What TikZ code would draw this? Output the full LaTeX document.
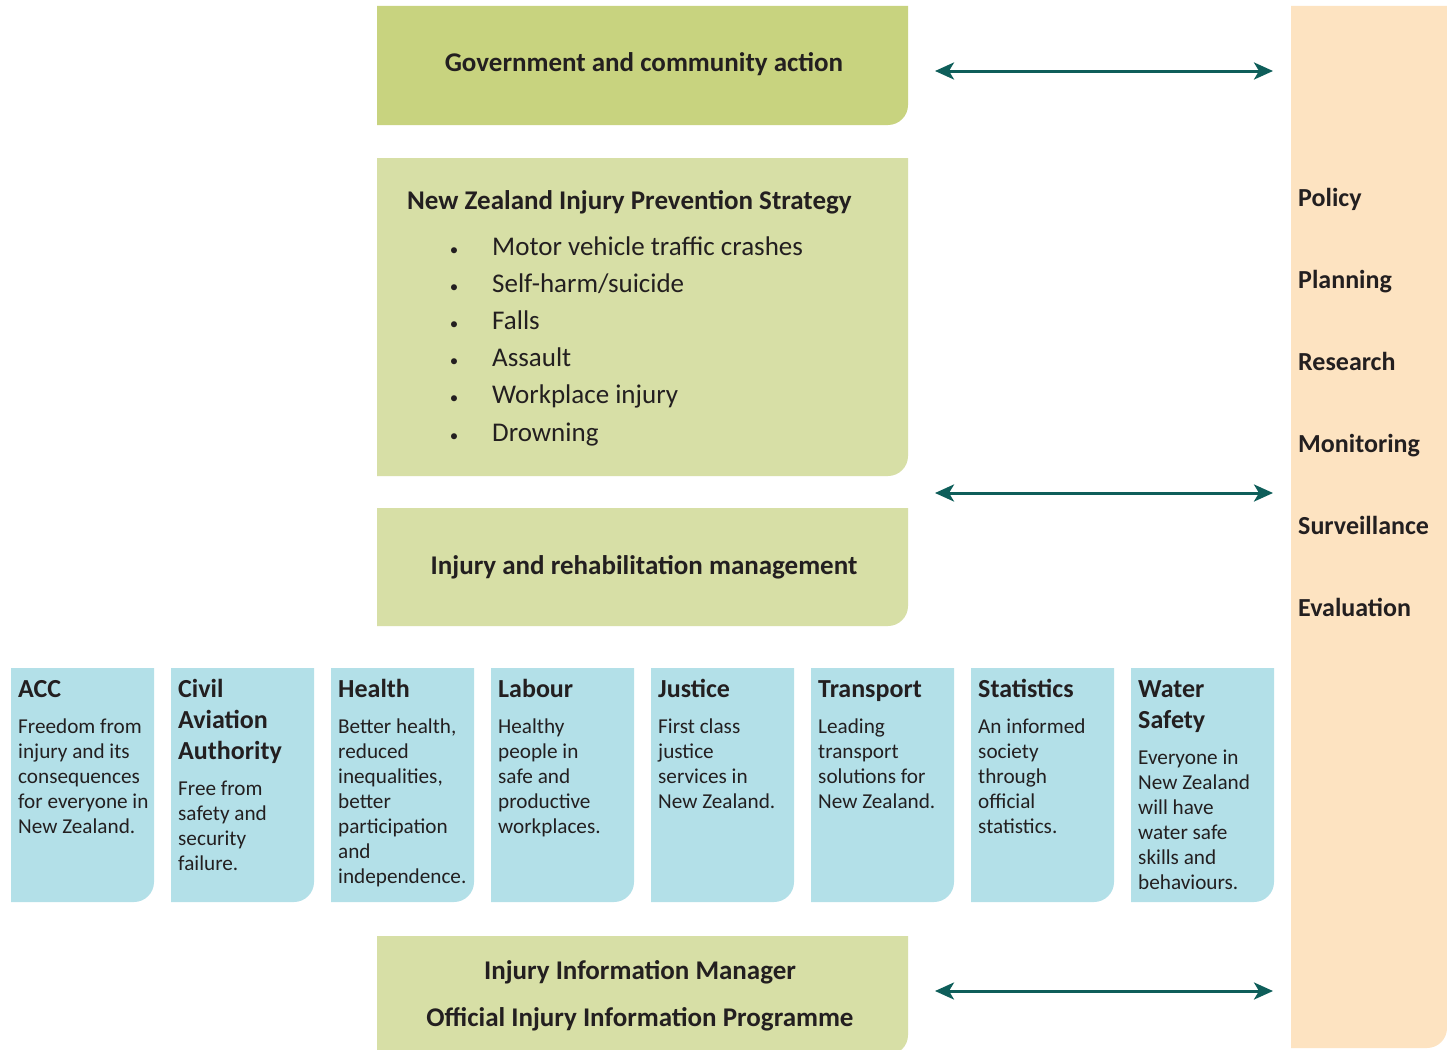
\documentclass[tikz,border=0pt]{standalone}
\usepackage{fontspec}
\setmainfont{Carlito}
\usetikzlibrary{arrows.meta}
\definecolor{gdark}{RGB}{200,211,127}
\definecolor{glight}{RGB}{215,223,166}
\definecolor{bluebx}{RGB}{179,224,232}
\definecolor{peach}{RGB}{253,227,193}
\definecolor{teal}{RGB}{14,94,90}
\definecolor{txt}{RGB}{35,31,32}
\newcommand{\rbox}[5]{\fill[#5] (#1,#2) -- (#3,#2) -- (#3,#4-20) .. controls (#3,#4-9) and (#3-9,#4) .. (#3-20,#4) -- (#1,#4) -- cycle;}
\newcommand{\bluetext}[2]{\vtop{\hsize=200pt\parindent=0pt\raggedright\fontsize{26}{31}\selectfont\bfseries #1\par\vskip 11pt\fontsize{21.2}{25}\selectfont\mdseries #2\par}}
\newcommand{\bdot}{\makebox[0pt]{\fontsize{17}{17}\selectfont\textbullet}\hspace*{38pt}}
\begin{document}
\begin{tikzpicture}[x=1pt,y=-1pt,
  lbl/.style={inner sep=0pt,text=txt},
  head/.style={lbl,font=\fontsize{27}{32}\selectfont\bfseries},
  side/.style={lbl,anchor=base west,font=\fontsize{26}{31}\selectfont\bfseries},
  blt/.style={lbl,anchor=base west},
  arr/.style={teal,line width=3pt,{Stealth[length=19pt,width=17pt,inset=5pt]}-{Stealth[length=19pt,width=17pt,inset=5pt]}}]
\clip (0,0) rectangle (1447,1049);
\fill[white] (0,0) rectangle (1447,1049);
% right column
\rbox{1291}{6}{1447}{1048}{peach}
% green boxes
\rbox{377}{6}{908}{125}{gdark}
\rbox{377}{158}{908}{476}{glight}
\rbox{377}{508}{908}{626}{glight}
\rbox{377}{936}{908}{1055}{glight}
% blue boxes
\foreach \i in {0,...,7}{
  \pgfmathsetmacro{\xa}{11+160*\i}
  \pgfmathsetmacro{\xb}{154+160*\i}
  \rbox{\xa}{668}{\xb}{902}{bluebx}
}
% green box texts
\node[head,anchor=base] (gov) at (644,71) {Government and community action};
\node[head,anchor=base west] (nzips) at (407,209) {New Zealand Injury Prevention Strategy};
\node[blt] (bullets) at (454,255) {\vtop{\hsize=500pt\parindent=0pt\raggedright\fontsize{27}{37.2}\selectfont
  \bdot Motor vehicle traffic crashes\\
  \bdot Self-harm/suicide\\
  \bdot Falls\\
  \bdot Assault\\
  \bdot Workplace injury\\
  \bdot Drowning\par}};
\node[head,anchor=base] (rehab) at (644,574) {Injury and rehabilitation management};
\node[head,anchor=base] (iim) at (640,979) {Injury Information Manager};
\node[head,anchor=base] (oiip) at (640,1026) {Official Injury Information Programme};
% side labels
\node[side] (policy) at (1298,206) {Policy};
\node[side] (planning) at (1298,288) {Planning};
\node[side] (research) at (1298,370) {Research};
\node[side] (monitoring) at (1298,452) {Monitoring};
\node[side] (surveillance) at (1298,534) {Surveillance};
\node[side] (evaluation) at (1298,616) {Evaluation};
% blue box texts
\node[blt] (acc) at (18,697) {\bluetext{ACC}{Freedom from\\injury and its\\consequences\\for everyone in\\New Zealand.}};
\node[blt] (caa) at (178,697) {\bluetext{Civil\\Aviation\\Authority}{Free from\\safety and\\security\\failure.}};
\node[blt] (health) at (338,697) {\bluetext{Health}{Better health,\\reduced\\inequalities,\\better\\participation\\and\\independence.}};
\node[blt] (labour) at (498,697) {\bluetext{Labour}{Healthy\\people in\\safe and\\productive\\workplaces.}};
\node[blt] (justice) at (658,697) {\bluetext{Justice}{First class\\justice\\services in\\New Zealand.}};
\node[blt] (transport) at (818,697) {\bluetext{Transport}{Leading\\transport\\solutions for\\New Zealand.}};
\node[blt] (stats) at (978,697) {\bluetext{Statistics}{An informed\\society\\through\\official\\statistics.}};
\node[blt] (water) at (1138,697) {\bluetext{Water\\Safety}{Everyone in\\New Zealand\\will have\\water safe\\skills and\\behaviours.}};
% arrows
\coordinate (a1l) at (935,71);  \coordinate (a1r) at (1273,71);
\coordinate (a2l) at (935,493); \coordinate (a2r) at (1273,493);
\coordinate (a3l) at (935,991); \coordinate (a3r) at (1273,991);
\draw[arr] (a1l) -- (a1r);
\draw[arr] (a2l) -- (a2r);
\draw[arr] (a3l) -- (a3r);
\end{tikzpicture}
\end{document}
